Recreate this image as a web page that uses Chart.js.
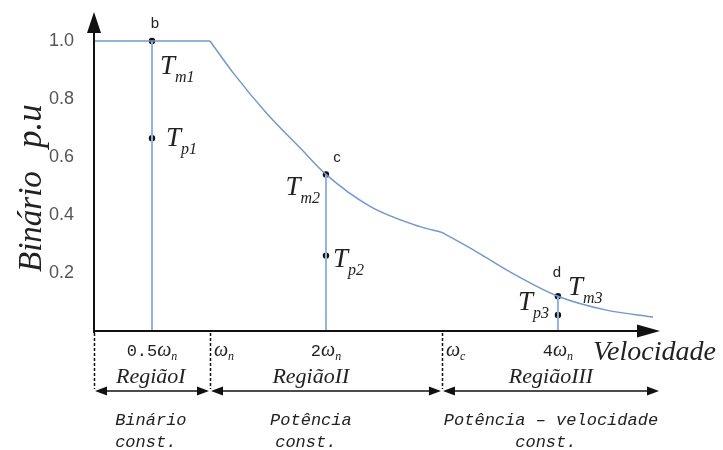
<!DOCTYPE html>
<html>
<head>
<meta charset="utf-8">
<script src="https://cdn.jsdelivr.net/npm/chart.js@4.4.0/dist/chart.umd.min.js"></script>
<style>
  html, body { margin: 0; padding: 0; background: #fff; }
  #wrap { width: 723px; height: 450px; }
</style>
</head>
<body>
<div id="wrap"><canvas id="chart" width="723" height="450"></canvas></div>
<script>
// maximum torque curve (speed in units of wn, torque in p.u)
var omegaRegion1 = [0, 1];
var torqueRegion1 = [1.0, 1.0];
var omegaRegion2 = [1, 1.2, 1.49, 1.78, 2, 2.38, 2.81, 3];
var torqueRegion2 = [1.0, 0.89, 0.75, 0.63, 0.54, 0.43, 0.36, 0.34];
var omegaRegion3 = [3, 3.27, 3.56, 4, 4.42, 4.82];
var torqueRegion3 = [0.34, 0.28, 0.21, 0.12, 0.072, 0.048];

// operating points: motor torque Tm and load torque Tp
var pointOmega = [0.5, 0.5, 2, 2, 4, 4];
var pointTorque = [1.0, 0.665, 0.54, 0.26, 0.12, 0.055];
var pointMain = ["T", "T", "T", "T", "T", "T"];
var pointSub = ["m1", "p1", "m2", "p2", "m3", "p3"];
var pointLetters = ["b", "", "c", "", "d", ""];

// vertical guides at the three speeds
var guideOmega = [0.5, 2, 4];
var guideTop = [1.0, 0.54, 0.12];

var yTicks = [0.2, 0.4, 0.6, 0.8, 1.0];
var xTickValues = [0.5, 1, 2, 3, 4];
var xTickCoef = ["0.5", "", "2", "", "4"];
var xTickSub = ["n", "n", "n", "c", "n"];

var regionBounds = [0, 1, 3, 4.88];
var regionTextAt = [0.49, 1.87, 3.94];
var regionNames = ["RegiãoI", "RegiãoII", "RegiãoIII"];
var regionDesc = [["Binário", "const."], ["Potência", "const."], ["Potência – velocidade", "const."]];

var curveBlue = "#7398cd";
var guideBlue = "#92b3e2";
var serif = "'Liberation Serif', 'Times New Roman', serif";
var mono = "'Liberation Mono', 'Courier New', monospace";
var sans = "'Liberation Sans', Arial, sans-serif";

function pairs(xs, ys) {
  return xs.map(function (x, i) { return { x: x, y: ys[i] }; });
}

function curveSet(xs, ys) {
  return {
    data: pairs(xs, ys),
    borderColor: curveBlue,
    borderWidth: 1.5,
    pointRadius: 0,
    cubicInterpolationMode: "monotone",
    fill: false
  };
}

var datasets = [
  curveSet(omegaRegion1, torqueRegion1),
  curveSet(omegaRegion2, torqueRegion2),
  curveSet(omegaRegion3, torqueRegion3)
];

guideOmega.forEach(function (w, i) {
  datasets.push({
    data: [{ x: w, y: 0 }, { x: w, y: guideTop[i] }],
    borderColor: guideBlue,
    borderWidth: 2,
    pointRadius: 0,
    fill: false
  });
});

datasets.push({
  data: pairs(pointOmega, pointTorque),
  showLine: false,
  pointRadius: 3.2,
  pointBackgroundColor: "#111",
  pointBorderColor: "#111",
  pointBorderWidth: 0
});
var pointSetIndex = datasets.length - 1;

function arrowHead(ctx, x, y, dir, len, half) {
  ctx.beginPath();
  ctx.moveTo(x, y);
  ctx.lineTo(x - dir * len, y - half);
  ctx.lineTo(x - dir * len, y + half);
  ctx.closePath();
  ctx.fill();
}

function textWithSub(ctx, main, sub, x, y, mainFont, subFont, drop, align) {
  ctx.font = mainFont;
  var w1 = ctx.measureText(main).width;
  ctx.font = subFont;
  var w2 = ctx.measureText(sub).width;
  var total = w1 + w2;
  var left = x;
  if (align === "right") left = x - total;
  if (align === "center") left = x - total / 2;
  ctx.textAlign = "left";
  ctx.textBaseline = "alphabetic";
  ctx.font = mainFont;
  ctx.fillText(main, left, y);
  ctx.font = subFont;
  ctx.fillText(sub, left + w1, y + drop);
}

var drawingPlugin = {
  id: "torqueDrawing",
  afterDatasetsDraw: function (chart) {
    var ctx = chart.ctx;
    var xs = chart.scales.x;
    var ys = chart.scales.y;
    var x0 = xs.getPixelForValue(0);
    var y0 = ys.getPixelForValue(0);
    var top = chart.chartArea.top;
    var right = chart.chartArea.right;

    ctx.save();
    ctx.strokeStyle = "#111";
    ctx.fillStyle = "#111";

    // axes with arrows
    ctx.lineWidth = 2;
    ctx.beginPath();
    ctx.moveTo(x0, y0 + 2);
    ctx.lineTo(x0, top + 16);
    ctx.moveTo(x0 - 1, y0);
    ctx.lineTo(right - 18, y0);
    ctx.stroke();
    ctx.beginPath();
    ctx.moveTo(x0, top);
    ctx.lineTo(x0 - 7, top + 21);
    ctx.lineTo(x0 + 7, top + 21);
    ctx.closePath();
    ctx.fill();
    arrowHead(ctx, right, y0, 1, 23, 6.5);

    // dashed region boundaries
    ctx.lineWidth = 1.5;
    ctx.setLineDash([3, 2]);
    ctx.beginPath();
    [regionBounds[0], regionBounds[1], regionBounds[2]].forEach(function (w) {
      var px = Math.round(xs.getPixelForValue(w)) + 0.5;
      ctx.moveTo(px, y0 + 2);
      ctx.lineTo(px, y0 + 58);
    });
    ctx.stroke();
    ctx.setLineDash([]);

    // double arrows under each region
    var ay = y0 + 60;
    ctx.lineWidth = 1.5;
    for (var r = 0; r < 3; r++) {
      var a = xs.getPixelForValue(regionBounds[r]) + 1;
      var b = xs.getPixelForValue(regionBounds[r + 1]) - 1;
      ctx.beginPath();
      ctx.moveTo(a + 6, ay);
      ctx.lineTo(b - 6, ay);
      ctx.stroke();
      arrowHead(ctx, a, ay, -1, 12, 4.5);
      arrowHead(ctx, b, ay, 1, 12, 4.5);
    }

    // x tick labels
    ctx.fillStyle = "#222";
    xTickValues.forEach(function (w, i) {
      var px = xs.getPixelForValue(w);
      var base = y0 + 25;
      ctx.font = "17px " + mono;
      var wc = ctx.measureText(xTickCoef[i]).width;
      ctx.font = "italic 20px " + serif;
      var wo = ctx.measureText("ω").width;
      ctx.font = "italic 12px " + serif;
      var ws = ctx.measureText(xTickSub[i]).width;
      var left = xTickCoef[i] ? px - (wc + wo + ws) / 2 : px + 4;
      ctx.textAlign = "left";
      ctx.textBaseline = "alphabetic";
      ctx.font = "17px " + mono;
      ctx.fillText(xTickCoef[i], left, base);
      ctx.font = "italic 20px " + serif;
      ctx.fillText("ω", left + wc, base);
      ctx.font = "italic 12px " + serif;
      ctx.fillText(xTickSub[i], left + wc + wo, base + 4);
    });

    // x axis title
    ctx.font = "italic 28px " + serif;
    ctx.textAlign = "left";
    ctx.fillText("Velocidade", 593, y0 + 29);

    // region names and descriptions
    regionNames.forEach(function (name, i) {
      var px = xs.getPixelForValue(regionTextAt[i]);
      ctx.textAlign = "center";
      ctx.font = "italic 22px " + serif;
      ctx.fillText(name, px, y0 + 52);
      ctx.font = "italic 17px " + mono;
      ctx.fillText(regionDesc[i][0], px, y0 + 94);
      ctx.fillText(regionDesc[i][1] + " ", px, y0 + 116);
    });

    // y axis title, rotated
    ctx.save();
    ctx.translate(41, 272);
    ctx.rotate(-Math.PI / 2);
    ctx.textAlign = "left";
    ctx.font = "italic 33px " + serif;
    ctx.fillText("Binário", 0, 0);
    ctx.font = "italic 35px " + serif;
    ctx.fillText("p.u", 124, 0);
    ctx.restore();

    // operating point labels
    var meta = chart.getDatasetMeta(pointSetIndex);
    var mainFont = "italic 27px " + serif;
    var subFont = "italic 16px " + serif;
    var place = [
      { dx: 8, dy: 33, align: "left" },
      { dx: 14, dy: 8, align: "left" },
      { dx: -6, dy: 21, align: "right" },
      { dx: 7, dy: 11, align: "left" },
      { dx: 10, dy: -1, align: "left" },
      { dx: -9, dy: -5, align: "right" }
    ];
    var letterAt = [[3, -17], [0, 0], [11, -17], [0, 0], [-1, -23], [0, 0]];
    meta.data.forEach(function (pt, i) {
      var p = place[i];
      textWithSub(ctx, pointMain[i], pointSub[i], pt.x + p.dx, pt.y + p.dy, mainFont, subFont, 8, p.align);
      if (pointLetters[i]) {
        ctx.font = "15px " + sans;
        ctx.textAlign = "center";
        ctx.textBaseline = "middle";
        ctx.fillText(pointLetters[i], pt.x + letterAt[i][0], pt.y + letterAt[i][1]);
        ctx.textBaseline = "alphabetic";
      }
    });

    ctx.restore();
  }
};

new Chart(document.getElementById("chart"), {
  type: "line",
  data: { datasets: datasets },
  options: {
    responsive: false,
    animation: false,
    layout: { padding: { top: 12, right: 63, bottom: 119, left: 0 } },
    plugins: { legend: { display: false }, tooltip: { enabled: false } },
    scales: {
      x: {
        type: "linear",
        min: 0,
        max: 4.88,
        display: false
      },
      y: {
        type: "linear",
        min: 0,
        max: 1.1,
        afterFit: function (scale) {
          scale.width = 94;
          scale.paddingTop = 0;
          scale.paddingBottom = 0;
        },
        afterBuildTicks: function (scale) {
          scale.ticks = yTicks.map(function (v) { return { value: v }; });
        },
        grid: { display: false },
        border: { display: false },
        ticks: {
          padding: 12,
          color: "#555",
          font: { family: sans, size: 18 },
          callback: function (value) { return Number(value).toFixed(1); }
        }
      }
    }
  },
  plugins: [drawingPlugin]
});
</script>
</body>
</html>
